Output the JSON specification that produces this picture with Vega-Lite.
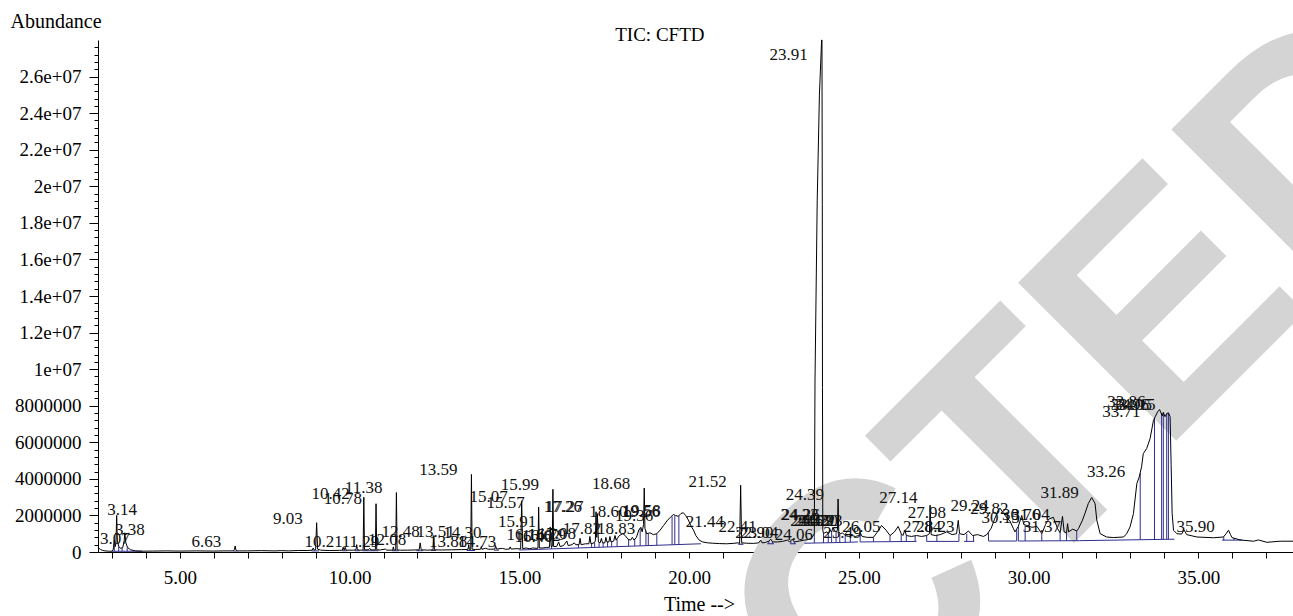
{
  "$schema": "https://vega.github.io/schema/vega-lite/v6.json",
  "width": 1195,
  "height": 512,
  "autosize": {"type": "none"},
  "padding": {"left": 98, "top": 40, "right": 0, "bottom": 64},
  "background": "white",
  "config": {
    "view": {"stroke": null},
    "axis": {"domainColor": "#000", "tickColor": "#000", "labelColor": "#000", "titleColor": "#000", "labelFont": "Liberation Serif", "titleFont": "Liberation Serif", "labelFontSize": 19, "titleFontSize": 20, "titleFontWeight": "normal", "grid": false, "domainWidth": 1, "tickWidth": 1, "zindex": 1}
  },
  "datasets": {
    "wm": [{"w": "RETRACTED", "t": 43.3, "a": 22700000}],
    "ttl": [{"label": "TIC: CFTD", "t": 19.14, "a": 27950000}],
    "tic": [
      {"t":2.59,"a":270000},{"t":2.62,"a":200000},{"t":2.66,"a":140000},{"t":2.72,"a":90000},{"t":2.8,"a":60000},{"t":2.9,"a":45000},{"t":3.0,"a":40000},{"t":3.04,"a":150000},{"t":3.07,"a":650000},{"t":3.1,"a":300000},{"t":3.12,"a":500000},{"t":3.14,"a":2000000},{"t":3.16,"a":600000},{"t":3.2,"a":300000},{"t":3.26,"a":200000},{"t":3.32,"a":250000},{"t":3.36,"a":600000},{"t":3.38,"a":1050000},{"t":3.41,"a":500000},{"t":3.46,"a":250000},{"t":3.55,"a":120000},{"t":3.7,"a":60000},{"t":3.9,"a":45000},
      {"t":4.2,"a":50000},{"t":4.6,"a":60000},{"t":5.0,"a":50000},{"t":5.5,"a":60000},{"t":6.0,"a":50000},{"t":6.3,"a":60000},{"t":6.58,"a":60000},{"t":6.61,"a":150000},{"t":6.63,"a":330000},{"t":6.65,"a":120000},{"t":6.7,"a":60000},{"t":7.0,"a":60000},{"t":7.4,"a":75000},{"t":7.8,"a":60000},{"t":8.0,"a":75000},{"t":8.2,"a":60000},{"t":8.5,"a":85000},{"t":8.75,"a":80000},{"t":8.9,"a":100000},{"t":8.93,"a":220000},{"t":8.96,"a":100000},{"t":9.0,"a":120000},{"t":9.03,"a":1600000},{"t":9.06,"a":150000},{"t":9.15,"a":100000},{"t":9.4,"a":80000},{"t":9.7,"a":90000},{"t":9.79,"a":100000},{"t":9.81,"a":260000},{"t":9.84,"a":100000},{"t":9.87,"a":260000},{"t":9.9,"a":100000},
      {"t":10.1,"a":100000},{"t":10.19,"a":120000},{"t":10.21,"a":400000},{"t":10.23,"a":120000},{"t":10.3,"a":100000},{"t":10.4,"a":110000},{"t":10.42,"a":3000000},{"t":10.44,"a":120000},{"t":10.55,"a":120000},{"t":10.6,"a":200000},{"t":10.63,"a":110000},{"t":10.76,"a":120000},{"t":10.78,"a":2640000},{"t":10.8,"a":120000},{"t":10.9,"a":110000},{"t":11.05,"a":160000},{"t":11.1,"a":100000},{"t":11.27,"a":100000},{"t":11.29,"a":280000},{"t":11.31,"a":100000},{"t":11.36,"a":110000},{"t":11.38,"a":3250000},{"t":11.4,"a":120000},{"t":11.5,"a":100000},{"t":11.7,"a":100000},{"t":11.9,"a":110000},{"t":12.05,"a":120000},{"t":12.08,"a":500000},{"t":12.11,"a":120000},{"t":12.3,"a":100000},{"t":12.46,"a":120000},{"t":12.48,"a":900000},{"t":12.5,"a":120000},{"t":12.7,"a":110000},{"t":13.0,"a":120000},{"t":13.3,"a":130000},{"t":13.49,"a":140000},{"t":13.51,"a":400000},{"t":13.53,"a":140000},{"t":13.57,"a":140000},{"t":13.59,"a":4240000},{"t":13.61,"a":150000},{"t":13.7,"a":140000},{"t":13.86,"a":150000},{"t":13.88,"a":300000},{"t":13.9,"a":150000},{"t":14.0,"a":200000},{"t":14.1,"a":150000},{"t":14.28,"a":160000},{"t":14.3,"a":350000},{"t":14.33,"a":160000},{"t":14.5,"a":200000},{"t":14.6,"a":150000},{"t":14.71,"a":160000},{"t":14.73,"a":280000},{"t":14.76,"a":160000},{"t":14.9,"a":180000},
      {"t":15.04,"a":170000},{"t":15.07,"a":2800000},{"t":15.1,"a":180000},{"t":15.2,"a":220000},{"t":15.3,"a":180000},{"t":15.4,"a":220000},{"t":15.5,"a":200000},{"t":15.55,"a":220000},{"t":15.57,"a":2460000},{"t":15.59,"a":220000},{"t":15.7,"a":220000},{"t":15.8,"a":250000},{"t":15.89,"a":260000},{"t":15.91,"a":1370000},{"t":15.94,"a":300000},{"t":15.97,"a":300000},{"t":15.99,"a":3430000},{"t":16.01,"a":300000},{"t":16.1,"a":300000},{"t":16.16,"a":550000},{"t":16.2,"a":300000},{"t":16.3,"a":350000},{"t":16.4,"a":600000},{"t":16.44,"a":350000},{"t":16.55,"a":400000},{"t":16.62,"a":500000},{"t":16.66,"a":400000},{"t":16.76,"a":400000},{"t":16.79,"a":750000},{"t":16.82,"a":400000},{"t":16.95,"a":450000},{"t":17.05,"a":450000},{"t":17.08,"a":850000},{"t":17.11,"a":450000},{"t":17.2,"a":500000},{"t":17.24,"a":600000},{"t":17.26,"a":2200000},{"t":17.28,"a":800000},{"t":17.3,"a":2100000},{"t":17.33,"a":550000},{"t":17.38,"a":500000},{"t":17.42,"a":750000},{"t":17.45,"a":500000},{"t":17.52,"a":500000},{"t":17.55,"a":800000},{"t":17.58,"a":550000},{"t":17.64,"a":550000},{"t":17.67,"a":850000},{"t":17.7,"a":550000},{"t":17.78,"a":600000},{"t":17.82,"a":900000},{"t":17.85,"a":650000},{"t":17.95,"a":900000},{"t":18.05,"a":1000000},{"t":18.12,"a":900000},{"t":18.2,"a":700000},{"t":18.28,"a":650000},{"t":18.33,"a":800000},{"t":18.38,"a":650000},{"t":18.45,"a":800000},{"t":18.52,"a":1200000},{"t":18.58,"a":1350000},{"t":18.62,"a":1100000},{"t":18.66,"a":1500000},{"t":18.68,"a":3500000},{"t":18.7,"a":1300000},{"t":18.75,"a":1000000},{"t":18.85,"a":1050000},{"t":18.95,"a":950000},{"t":19.05,"a":1000000},{"t":19.15,"a":1200000},{"t":19.25,"a":1450000},{"t":19.35,"a":1700000},{"t":19.45,"a":1900000},{"t":19.54,"a":2050000},{"t":19.6,"a":2000000},{"t":19.68,"a":1950000},{"t":19.76,"a":2100000},{"t":19.83,"a":2150000},{"t":19.9,"a":2000000},{"t":19.98,"a":1750000},
      {"t":20.05,"a":1450000},{"t":20.13,"a":1200000},{"t":20.2,"a":900000},{"t":20.3,"a":650000},{"t":20.4,"a":550000},{"t":20.55,"a":500000},{"t":20.7,"a":480000},{"t":20.9,"a":460000},{"t":21.1,"a":450000},{"t":21.3,"a":470000},{"t":21.44,"a":500000},{"t":21.49,"a":480000},{"t":21.52,"a":3650000},{"t":21.55,"a":500000},{"t":21.7,"a":480000},{"t":21.9,"a":470000},{"t":22.05,"a":500000},{"t":22.11,"a":650000},{"t":22.15,"a":500000},{"t":22.25,"a":520000},{"t":22.35,"a":600000},{"t":22.41,"a":700000},{"t":22.46,"a":550000},{"t":22.6,"a":550000},{"t":22.75,"a":580000},{"t":22.9,"a":650000},{"t":22.96,"a":550000},{"t":23.04,"a":700000},{"t":23.1,"a":550000},{"t":23.25,"a":600000},{"t":23.4,"a":650000},{"t":23.5,"a":680000},{"t":23.6,"a":750000},{"t":23.66,"a":900000},{"t":23.69,"a":1000000},{"t":23.71,"a":9400000},{"t":23.775,"a":19200000},{"t":23.84,"a":25000000},{"t":23.905,"a":28000000},{"t":23.915,"a":28000000},{"t":23.925,"a":19000000},{"t":23.93,"a":9000000},{"t":23.94,"a":1200000},{"t":23.96,"a":1000000},{"t":24.0,"a":1050000},{"t":24.06,"a":1100000},{"t":24.1,"a":1000000},{"t":24.15,"a":1200000},{"t":24.2,"a":1100000},{"t":24.24,"a":1350000},{"t":24.28,"a":1200000},{"t":24.33,"a":1100000},{"t":24.37,"a":1200000},{"t":24.39,"a":2900000},{"t":24.41,"a":1100000},{"t":24.46,"a":1000000},{"t":24.52,"a":1050000},{"t":24.6,"a":900000},{"t":24.7,"a":850000},{"t":24.8,"a":900000},{"t":24.9,"a":850000},
      {"t":25.0,"a":900000},{"t":25.04,"a":1050000},{"t":25.1,"a":850000},{"t":25.25,"a":800000},{"t":25.43,"a":800000},{"t":25.55,"a":1100000},{"t":25.67,"a":1450000},{"t":25.8,"a":1200000},{"t":25.92,"a":900000},{"t":26.05,"a":1100000},{"t":26.16,"a":1400000},{"t":26.25,"a":1000000},{"t":26.3,"a":900000},{"t":26.36,"a":1200000},{"t":26.4,"a":900000},{"t":26.55,"a":850000},{"t":26.7,"a":900000},{"t":26.85,"a":850000},{"t":27.0,"a":900000},{"t":27.08,"a":1000000},{"t":27.1,"a":2560000},{"t":27.13,"a":950000},{"t":27.25,"a":900000},{"t":27.4,"a":950000},{"t":27.59,"a":1100000},{"t":27.75,"a":950000},{"t":27.88,"a":1000000},{"t":27.93,"a":1730000},{"t":27.97,"a":1000000},{"t":28.1,"a":950000},{"t":28.23,"a":1150000},{"t":28.35,"a":900000},{"t":28.5,"a":950000},{"t":28.67,"a":850000},{"t":28.77,"a":950000},{"t":28.9,"a":1300000},{"t":29.0,"a":1800000},{"t":29.1,"a":2250000},{"t":29.16,"a":2400000},{"t":29.25,"a":2150000},{"t":29.35,"a":1900000},{"t":29.45,"a":1700000},{"t":29.55,"a":1300000},{"t":29.6,"a":1100000},{"t":29.7,"a":1400000},{"t":29.8,"a":2000000},{"t":29.86,"a":1500000},{"t":29.95,"a":1450000},
      {"t":30.1,"a":1350000},{"t":30.25,"a":1400000},{"t":30.39,"a":1000000},{"t":30.5,"a":1500000},{"t":30.6,"a":1800000},{"t":30.73,"a":1900000},{"t":30.85,"a":1300000},{"t":30.93,"a":1050000},{"t":31.0,"a":1950000},{"t":31.05,"a":1100000},{"t":31.12,"a":1050000},{"t":31.15,"a":1550000},{"t":31.18,"a":1100000},{"t":31.3,"a":1250000},{"t":31.42,"a":1150000},{"t":31.47,"a":1280000},{"t":31.58,"a":1700000},{"t":31.66,"a":2100000},{"t":31.76,"a":2650000},{"t":31.86,"a":2980000},{"t":31.96,"a":2650000},{"t":32.01,"a":1750000},{"t":32.11,"a":1000000},{"t":32.3,"a":820000},{"t":32.5,"a":790000},{"t":32.8,"a":820000},{"t":32.89,"a":1000000},{"t":32.99,"a":1370000},{"t":33.09,"a":2100000},{"t":33.19,"a":3740000},{"t":33.26,"a":4100000},{"t":33.33,"a":4660000},{"t":33.38,"a":5380000},{"t":33.48,"a":5660000},{"t":33.58,"a":6200000},{"t":33.68,"a":7200000},{"t":33.73,"a":7390000},{"t":33.8,"a":7660000},{"t":33.86,"a":7790000},{"t":33.9,"a":7610000},{"t":33.94,"a":7450000},{"t":33.97,"a":7630000},{"t":34.02,"a":7400000},{"t":34.07,"a":7570000},{"t":34.12,"a":7610000},{"t":34.17,"a":7400000},{"t":34.2,"a":4800000},{"t":34.23,"a":2100000},{"t":34.27,"a":1190000},{"t":34.37,"a":1000000},{"t":34.51,"a":980000},{"t":34.58,"a":1200000},{"t":34.66,"a":950000},{"t":34.96,"a":820000},{"t":35.45,"a":780000},{"t":35.74,"a":820000},{"t":35.82,"a":1000000},{"t":35.89,"a":1190000},{"t":35.95,"a":950000},{"t":35.99,"a":790000},{"t":36.23,"a":660000},{"t":36.63,"a":590000},{"t":36.77,"a":660000},{"t":37.02,"a":530000},{"t":37.41,"a":590000},{"t":37.8,"a":590000}
    ],
    "integ": [
      {"t":3.0,"t2":3.9,"a":40000,"a2":40000},{"t":6.58,"t2":6.7,"a":50000,"a2":50000},{"t":8.88,"t2":9.1,"a":60000,"a2":60000},{"t":9.78,"t2":9.92,"a":70000,"a2":70000},{"t":10.15,"t2":10.3,"a":70000,"a2":70000},{"t":10.38,"t2":10.85,"a":70000,"a2":70000},{"t":11.25,"t2":11.45,"a":70000,"a2":70000},{"t":11.97,"t2":12.17,"a":70000,"a2":70000},{"t":12.4,"t2":12.55,"a":80000,"a2":80000},{"t":13.45,"t2":13.7,"a":80000,"a2":80000},{"t":14.25,"t2":14.4,"a":100000,"a2":100000},{"t":15.0,"t2":20.35,"a":110000,"a2":450000},{"t":21.45,"t2":21.6,"a":420000,"a2":420000},{"t":22.3,"t2":22.5,"a":450000,"a2":450000},{"t":22.98,"t2":23.15,"a":450000,"a2":450000},{"t":23.4,"t2":24.48,"a":480000,"a2":520000},{"t":24.48,"t2":24.98,"a":520000,"a2":550000},{"t":25.04,"t2":26.7,"a":550000,"a2":580000},{"t":27.0,"t2":27.95,"a":580000,"a2":580000},{"t":28.1,"t2":28.4,"a":580000,"a2":580000},{"t":28.82,"t2":29.65,"a":600000,"a2":600000},{"t":29.7,"t2":31.5,"a":600000,"a2":620000},{"t":31.5,"t2":34.3,"a":620000,"a2":700000},{"t":35.7,"t2":36.3,"a":650000,"a2":650000},
      {"t":3.07,"t2":3.07,"a":40000,"a2":600000},{"t":3.2,"t2":3.2,"a":40000,"a2":300000},{"t":3.3,"t2":3.3,"a":40000,"a2":230000},{"t":3.45,"t2":3.45,"a":40000,"a2":250000},
      {"t":15.52,"t2":15.52,"a":143000,"a2":210000},{"t":15.95,"t2":15.95,"a":170000,"a2":300000},{"t":16.74,"t2":16.74,"a":221000,"a2":400000},{"t":17.13,"t2":17.13,"a":245000,"a2":450000},{"t":17.22,"t2":17.22,"a":251000,"a2":520000},{"t":17.35,"t2":17.35,"a":259000,"a2":520000},{"t":17.47,"t2":17.47,"a":267000,"a2":500000},{"t":17.6,"t2":17.6,"a":275000,"a2":550000},{"t":17.72,"t2":17.72,"a":283000,"a2":570000},{"t":17.88,"t2":17.88,"a":293000,"a2":700000},{"t":18.22,"t2":18.22,"a":315000,"a2":680000},{"t":18.4,"t2":18.4,"a":326000,"a2":700000},{"t":18.56,"t2":18.56,"a":336000,"a2":1300000},{"t":18.73,"t2":18.73,"a":347000,"a2":1150000},{"t":18.8,"t2":18.8,"a":352000,"a2":1000000},{"t":19.05,"t2":19.05,"a":367000,"a2":1000000},{"t":19.5,"t2":19.5,"a":396000,"a2":1950000},{"t":19.58,"t2":19.58,"a":401000,"a2":2000000},{"t":19.7,"t2":19.7,"a":409000,"a2":1980000},
      {"t":21.49,"t2":21.49,"a":420000,"a2":480000},{"t":21.56,"t2":21.56,"a":420000,"a2":490000},{"t":22.35,"t2":22.35,"a":450000,"a2":600000},{"t":22.46,"t2":22.46,"a":450000,"a2":550000},{"t":23.0,"t2":23.0,"a":450000,"a2":620000},{"t":23.1,"t2":23.1,"a":450000,"a2":550000},
      {"t":23.69,"t2":23.69,"a":491000,"a2":1000000},{"t":23.96,"t2":23.96,"a":501000,"a2":1000000},{"t":24.1,"t2":24.1,"a":506000,"a2":1000000},{"t":24.2,"t2":24.2,"a":510000,"a2":1100000},{"t":24.33,"t2":24.33,"a":514000,"a2":1100000},{"t":24.44,"t2":24.44,"a":518000,"a2":1000000},{"t":24.6,"t2":24.6,"a":530000,"a2":900000},{"t":24.75,"t2":24.75,"a":540000,"a2":870000},{"t":25.04,"t2":25.04,"a":550000,"a2":1050000},{"t":25.43,"t2":25.43,"a":557000,"a2":800000},{"t":25.92,"t2":25.92,"a":566000,"a2":900000},{"t":26.25,"t2":26.25,"a":572000,"a2":1000000},{"t":26.4,"t2":26.4,"a":575000,"a2":900000},{"t":26.66,"t2":26.66,"a":580000,"a2":880000},{"t":27.0,"t2":27.0,"a":580000,"a2":900000},{"t":27.3,"t2":27.3,"a":580000,"a2":920000},{"t":27.95,"t2":27.95,"a":580000,"a2":1000000},{"t":28.18,"t2":28.18,"a":580000,"a2":1000000},{"t":28.38,"t2":28.38,"a":580000,"a2":900000},{"t":28.82,"t2":28.82,"a":600000,"a2":1050000},{"t":29.65,"t2":29.65,"a":600000,"a2":1200000},{"t":29.7,"t2":29.7,"a":600000,"a2":1400000},{"t":29.9,"t2":29.9,"a":602000,"a2":1450000},{"t":30.39,"t2":30.39,"a":607000,"a2":1000000},{"t":30.93,"t2":30.93,"a":613000,"a2":1050000},{"t":31.12,"t2":31.12,"a":615000,"a2":1050000},{"t":31.42,"t2":31.42,"a":619000,"a2":1150000},
      {"t":33.29,"t2":33.29,"a":671000,"a2":4300000},{"t":33.71,"t2":33.71,"a":683000,"a2":7350000},{"t":33.92,"t2":33.92,"a":689000,"a2":7600000},{"t":33.97,"t2":33.97,"a":690000,"a2":7630000},{"t":34.07,"t2":34.07,"a":693000,"a2":7570000},{"t":34.12,"t2":34.12,"a":694000,"a2":7610000},{"t":35.75,"t2":35.75,"a":650000,"a2":830000},{"t":36.05,"t2":36.05,"a":650000,"a2":750000}
    ],
    "labels": [
      {"label":"3.07","t":3.94,"a":460000},{"label":"3.14","t":4.15,"a":2000000},{"label":"3.38","t":4.38,"a":910000},{"label":"6.63","t":6.63,"a":270000},{"label":"9.03","t":9.03,"a":1550000},{"label":"10.21","t":10.21,"a":270000},{"label":"11.29","t":11.29,"a":300000},{"label":"12.08","t":12.08,"a":370000},{"label":"12.48","t":12.48,"a":820000},{"label":"10.42","t":10.42,"a":2920000},{"label":"10.78","t":10.78,"a":2600000},{"label":"11.38","t":11.38,"a":3200000},
      {"label":"13.51","t":13.51,"a":820000},{"label":"13.59","t":13.59,"a":4200000},{"label":"13.88","t":13.88,"a":270000},{"label":"14.30","t":14.3,"a":750000},{"label":"14.73","t":14.73,"a":270000},{"label":"15.07","t":15.07,"a":2740000},{"label":"15.57","t":15.57,"a":2400000},{"label":"15.99","t":15.99,"a":3380000},{"label":"15.91","t":15.91,"a":1370000},{"label":"16.16","t":16.16,"a":680000},{"label":"16.40","t":16.4,"a":550000},{"label":"16.62","t":16.62,"a":600000},{"label":"16.79","t":16.79,"a":650000},{"label":"17.08","t":17.08,"a":700000},{"label":"17.26","t":17.26,"a":2190000},{"label":"17.27","t":17.3,"a":2190000},{"label":"17.82","t":17.82,"a":1000000},{"label":"18.60","t":18.6,"a":1900000},{"label":"18.83","t":18.83,"a":1000000},{"label":"18.68","t":18.68,"a":3470000},{"label":"19.36","t":19.36,"a":1700000},{"label":"19.56","t":19.56,"a":1900000},{"label":"19.58","t":19.58,"a":1950000},
      {"label":"21.44","t":21.44,"a":1370000},{"label":"21.52","t":21.52,"a":3560000},{"label":"22.41","t":22.41,"a":1100000},{"label":"22.90","t":22.9,"a":750000},{"label":"23.04","t":23.04,"a":750000},{"label":"23.91","t":23.91,"a":26900000},{"label":"24.06","t":24.06,"a":640000},{"label":"24.23","t":24.23,"a":1730000},{"label":"24.26","t":24.26,"a":1730000},{"label":"24.39","t":24.39,"a":2830000},{"label":"24.52","t":24.52,"a":1400000},{"label":"24.62","t":24.62,"a":1400000},{"label":"24.72","t":24.72,"a":1400000},{"label":"24.80","t":24.8,"a":1400000},{"label":"24.93","t":24.93,"a":1400000},{"label":"25.49","t":25.49,"a":750000},{"label":"26.05","t":26.05,"a":1100000},
      {"label":"27.14","t":27.14,"a":2660000},{"label":"27.84","t":27.84,"a":1070000},{"label":"27.98","t":27.98,"a":1840000},{"label":"28.23","t":28.23,"a":1100000},{"label":"29.24","t":29.24,"a":2220000},{"label":"29.82","t":29.82,"a":2100000},{"label":"30.15","t":30.15,"a":1570000},{"label":"30.76","t":30.76,"a":1730000},{"label":"31.04","t":31.04,"a":1730000},{"label":"31.37","t":31.37,"a":1100000},{"label":"31.89","t":31.89,"a":2940000},{"label":"33.26","t":33.26,"a":4100000},{"label":"33.71","t":33.71,"a":7400000},{"label":"33.86","t":33.86,"a":7950000},{"label":"33.96","t":33.96,"a":7750000},{"label":"34.05","t":34.05,"a":7750000},{"label":"34.15","t":34.15,"a":7750000},{"label":"35.90","t":35.9,"a":1100000}
    ]
  },
  "encoding": {
    "x": {
      "field": "t", "type": "quantitative",
      "scale": {"domain": [2.59, 37.79], "nice": false, "zero": false},
      "axis": {
        "values": [3,4,5,6,7,8,9,10,11,12,13,14,15,16,17,18,19,20,21,22,23,24,25,26,27,28,29,30,31,32,33,34,35,36,37],
        "labelExpr": "datum.value % 5 === 0 ? format(datum.value, '.2f') : ''",
        "tickSize": 6, "labelPadding": 10, "labelOverlap": false, "labelFlush": false,
        "title": "Time -->", "titleX": 601, "titleY": 58, "titleBaseline": "alphabetic", "titleAlign": "center"
      }
    },
    "y": {
      "field": "a", "type": "quantitative",
      "scale": {"domain": [0, 28000000], "nice": false, "zero": true},
      "axis": {
        "values": [0,400000,800000,1200000,1600000,2000000,2400000,2800000,3200000,3600000,4000000,4400000,4800000,5200000,5600000,6000000,6400000,6800000,7200000,7600000,8000000,8400000,8800000,9200000,9600000,10000000,10400000,10800000,11200000,11600000,12000000,12400000,12800000,13200000,13600000,14000000,14400000,14800000,15200000,15600000,16000000,16400000,16800000,17200000,17600000,18000000,18400000,18800000,19200000,19600000,20000000,20400000,20800000,21200000,21600000,22000000,22400000,22800000,23200000,23600000,24000000,24400000,24800000,25200000,25600000,26000000,26400000,26800000,27200000,27600000],
        "labelExpr": "round(datum.value / 400000) % 5 === 0 ? (datum.value >= 10000000 ? replace(format(datum.value, '~e'), 'e+', 'e+0') : format(datum.value, 'd')) : ''",
        "tickSize": {"condition": {"test": "round(datum.value / 400000) % 5 === 0", "value": 9}, "value": 4},
        "labelPadding": 8, "labelOverlap": false,
        "title": "Abundance", "titleAngle": 0, "titleAlign": "left", "titleBaseline": "alphabetic", "titleX": -88, "titleY": -13
      }
    }
  },
  "layer": [
    {"data": {"name": "wm"}, "mark": {"type": "text", "align": "right", "baseline": "alphabetic", "angle": 315, "font": "Liberation Sans", "fontWeight": "bold", "fontSize": 325, "color": "#d4d4d4"}, "encoding": {"text": {"field": "w"}}},
    {"data": {"name": "integ"}, "mark": {"type": "rule", "color": "#2e2e8c", "strokeWidth": 1}, "encoding": {"x2": {"field": "t2"}, "y2": {"field": "a2"}}},
    {"data": {"name": "tic"}, "mark": {"type": "line", "color": "#000", "strokeWidth": 1, "interpolate": "linear"}, "encoding": {}},
    {"data": {"name": "labels"}, "mark": {"type": "text", "align": "right", "baseline": "alphabetic", "dx": -14, "font": "Liberation Serif", "fontSize": 17, "color": "#111"}, "encoding": {"text": {"field": "label"}}},
    {"data": {"name": "ttl"}, "mark": {"type": "text", "align": "center", "baseline": "alphabetic", "font": "Liberation Serif", "fontSize": 19, "color": "#000"}, "encoding": {"text": {"field": "label"}}}
  ]
}
